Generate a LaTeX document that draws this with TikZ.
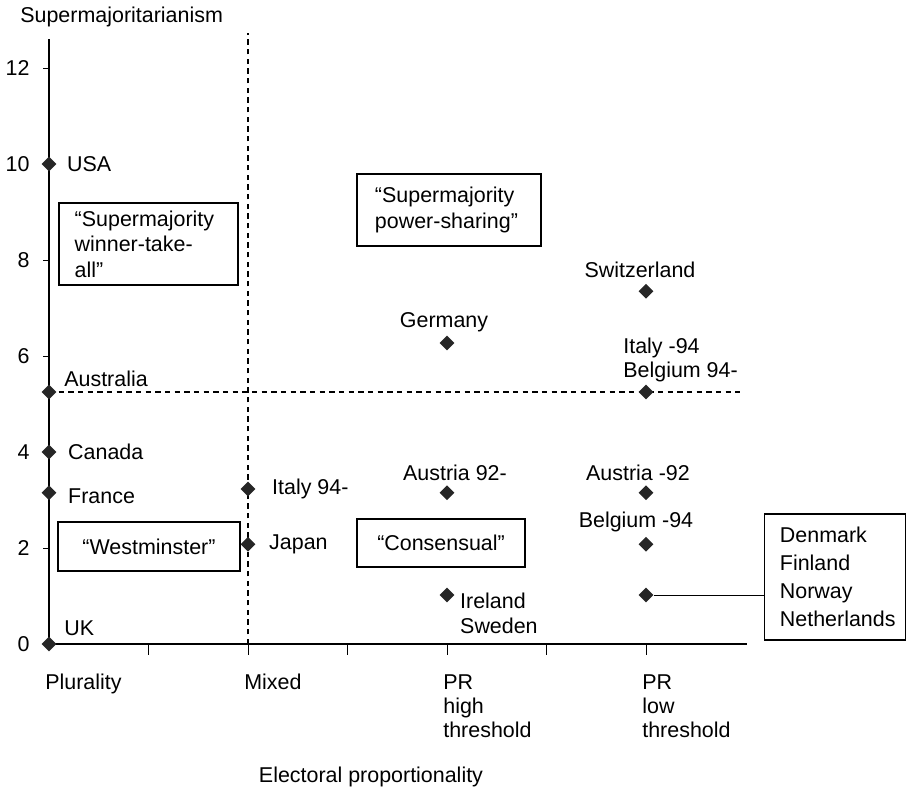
\documentclass[tikz,border=0pt]{standalone}
\usepackage{fontspec}
\setmainfont{Liberation Sans}
\usepackage{tikz}
\usetikzlibrary{arrows,shapes,positioning}
\tikzstyle{country} = [inner sep=0pt, align=left, font=\fontsize{12.2}{13.8}\selectfont]
\tikzstyle{point} = [diamond, fill=black!85, inner sep=0pt, minimum size=0.3cm]
\tikzstyle{regime} = [rectangle, draw, line width=1pt, inner ysep=0pt, font=\fontsize{12.2}{14.5}\selectfont]
\tikzstyle{axis} = [line width=0.8pt]
\tikzstyle{divider} = [line width=0.6pt, dash pattern=on 3pt off 2.5pt]
\tikzstyle{tick} = [line width=0.5pt]
\tikzstyle{link} = [line width=0.6pt]

\begin{document}
\begin{tikzpicture}[x=3.98cm, y=0.96cm, node distance=0.12cm]
    \useasboundingbox (-0.98cm,-3.04cm) rectangle (17.2cm,12.88cm);

    % Axes
    \draw[divider] (1,0) -- (1,12.73);
    \draw[divider] (0,5.25) -- (3.47,5.25);
    \draw[axis] (0,0) -- (3.51,0);
    \draw[axis] (0,0) -- (0,12.6);
    \foreach \y in {0,2,...,12}
        \draw[tick] (0,\y) -- ++(-0.12cm,0) node[country, anchor=east, xshift=-0.26cm] (ytick\y) {\y};
    \foreach \x in {0.5,1,...,3}
        \draw[tick] (\x,0) -- ++(0,-0.22cm);

    % Axis labels
    \node[country, anchor=west] (ytitle) at (-0.58cm,12.54cm) {Supermajoritarianism};
    \node[country] (xtitle) at (1.618,-2.77) {Electoral proportionality};
    \node[country, anchor=north west] (plurality) at ([xshift=-0.08cm, yshift=-0.6cm]0,0) {Plurality};
    \node[country, anchor=north west] (mixed) at ([xshift=-0.08cm, yshift=-0.6cm]1,0) {Mixed};
    \node[country, anchor=north west] (prhigh) at ([xshift=-0.08cm, yshift=-0.6cm]2,0) {PR\\high\\threshold};
    \node[country, anchor=north west] (prlow) at ([xshift=-0.08cm, yshift=-0.6cm]3,0) {PR\\low\\threshold};

    % Regime boxes
    \node[regime, text width=2.95cm, inner xsep=0.32cm, minimum height=1.64cm, align=left] (wta) at (0.5,8.33) {“Supermajority\\winner-take-\\all”};
    \node[regime, text width=2.96cm, inner xsep=0.36cm, minimum height=1.44cm, align=left] (powersharing) at (2.01,9.04) {“Supermajority\\power-sharing”};
    \node[regime, minimum width=3.64cm, minimum height=0.98cm] (westminster) at (0.5025,2.03) {“Westminster”};
    \node[regime, minimum width=3.36cm, minimum height=0.96cm] (consensual) at (1.97,2.10) {“Consensual”};
    \node[regime, text width=2.22cm, inner xsep=0.3cm, minimum height=2.52cm, align=left, line width=0.6pt, font=\fontsize{12.2}{16}\selectfont] (nordicbox) at (3.952,1.396) {Denmark\\Finland\\Norway\\Netherlands};

    % Countries
    \node[point] (usa) at (0,10) {};
    \node[point] (australia) at (0,5.25) {};
    \node[point] (canada) at (0,4) {};
    \node[point] (france) at (0,3.15) {};
    \node[point] (uk) at (0,0) {};
    \node[point] (italynew) at (1,3.23) {};
    \node[point] (japan) at (1,2.08) {};
    \node[point] (germany) at (2,6.27) {};
    \node[point] (austrianew) at (2,3.15) {};
    \node[point] (ireland) at (2,1.02) {};
    \node[point] (swiss) at (3,7.35) {};
    \node[point] (italyold) at (3,5.25) {};
    \node[point] (austriaold) at (3,3.15) {};
    \node[point] (belgiumold) at (3,2.08) {};
    \node[point] (nordic) at (3,1.02) {};

    \node[country, right=0.2cm of usa] (usalbl) {USA};
    \node[country, anchor=west] (australialbl) at ([xshift=0.3cm, yshift=0.26cm]australia) {Australia};
    \node[country, right=0.22cm of canada] (canadalbl) {Canada};
    \node[country, right=0.22cm of france, yshift=-0.06cm] (francelbl) {France};
    \node[country, anchor=west] (uklbl) at ([xshift=0.3cm, yshift=0.32cm]uk) {UK};
    \node[country, right=0.32cm of italynew] (italynewlbl) {Italy 94-};
    \node[country, right=0.26cm of japan] (japanlbl) {Japan};
    \node[country, above=0.06cm of germany, xshift=-0.06cm] (germanylbl) {Germany};
    \node[country, above=0.08cm of austrianew, xshift=0.16cm] (austrianewlbl) {Austria 92-};
    \node[country, anchor=north west] (irelandlbl) at ([xshift=0.1cm, yshift=0.04cm]ireland.east) {Ireland\\Sweden};
    \node[country, above=0.1cm of swiss, xshift=-0.12cm] (swisslbl) {Switzerland};
    \node[country, anchor=south west] (italyoldlbl) at ([xshift=-0.46cm, yshift=0.04cm]italyold.north) {Italy -94\\Belgium 94-};
    \node[country, above=0.08cm of austriaold, xshift=-0.16cm] (austriaoldlbl) {Austria -92};
    \node[country, above=0.08cm of belgiumold, xshift=-0.2cm] (belgiumoldlbl) {Belgium -94};

    % Connector
    \draw[link] (nordic) -- (nordic -| nordicbox.west);
\end{tikzpicture}
\end{document}
